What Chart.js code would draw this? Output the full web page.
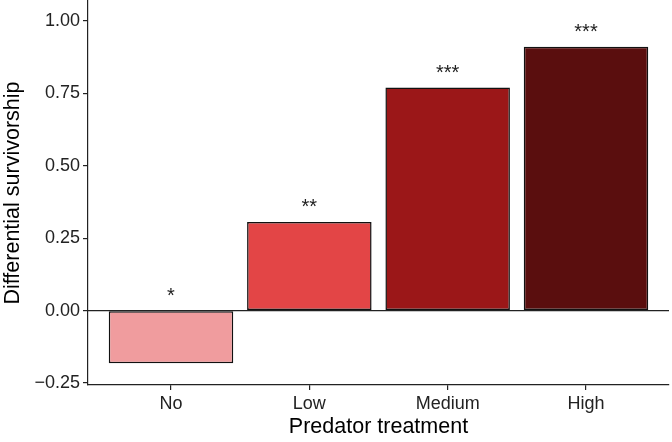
<!DOCTYPE html>
<html>
<head>
<meta charset="utf-8">
<script src="https://cdn.jsdelivr.net/npm/chart.js@4"></script>
<style>
  html, body { margin: 0; padding: 0; background: #fff; }
  #wrap { width: 672px; height: 442px; }
</style>
</head>
<body>
<div id="wrap"><canvas id="chart"></canvas></div>
<script>
// data
const treatments = ['No', 'Low', 'Medium', 'High'];
const survivorship = [-0.182, 0.306, 0.770, 0.911];
const significance = ['*', '**', '***', '***'];
const barColors = ['#F09C9E', '#E34546', '#9B1718', '#5A0E0E'];
const yTicks = [-0.25, 0, 0.25, 0.5, 0.75, 1.0];

const FONT = "'Liberation Sans', Arial, Helvetica, sans-serif";

// zero reference line + asterisks above each bar
const annotations = {
    id: 'annotations',
    afterDatasetsDraw(chart) {
        const ctx = chart.ctx;
        const x = chart.scales.x;
        const y = chart.scales.y;
        const area = chart.chartArea;
        ctx.save();
        ctx.strokeStyle = '#222';
        ctx.lineWidth = 1.2;
        const y0 = y.getPixelForValue(0);
        ctx.beginPath();
        ctx.moveTo(area.left, y0);
        ctx.lineTo(area.right, y0);
        ctx.stroke();

        ctx.fillStyle = '#222';
        ctx.font = '20px ' + FONT;
        ctx.textAlign = 'center';
        ctx.textBaseline = 'alphabetic';
        for (let i = 0; i < treatments.length; i++) {
            const px = x.getPixelForValue(i);
            const py = y.getPixelForValue(Math.max(survivorship[i], 0)) - 9;
            ctx.fillText(significance[i], px, py);
        }
        ctx.restore();
    }
};

const ctx = document.getElementById('chart').getContext('2d');
new Chart(ctx, {
    type: 'bar',
    data: {
        datasets: [{
            data: survivorship.map((v, i) => ({ x: i, y: v })),
            backgroundColor: barColors,
            borderColor: '#111',
            borderWidth: 1.5,
            borderSkipped: false,
            barPercentage: 0.9,
            categoryPercentage: 1.0
        }]
    },
    options: {
        responsive: true,
        maintainAspectRatio: false,
        animation: false,
        layout: { padding: { top: 1, right: 3, left: 0, bottom: 0 } },
        plugins: {
            legend: { display: false },
            tooltip: { enabled: false }
        },
        scales: {
            x: {
                type: 'linear',
                offset: false,
                min: -0.6,
                max: 3.6,
                afterBuildTicks: (scale) => {
                    scale.ticks = treatments.map((t, i) => ({ value: i }));
                },
                afterFit: (scale) => {
                    scale.height = 57;
                    scale.paddingLeft = 0;
                    scale.paddingRight = 0;
                },
                ticks: {
                    autoSkip: false,
                    color: '#222',
                    font: { family: FONT, size: 18 },
                    padding: 3,
                    maxRotation: 0,
                    callback: (v) => treatments[v]
                },
                grid: { display: true, offset: false, drawOnChartArea: false, drawTicks: true, tickLength: 5, color: '#222', lineWidth: 1.2 },
                border: { display: true, color: '#222', width: 1.2 },
                title: {
                    display: true,
                    text: 'Predator treatment',
                    color: '#000',
                    font: { family: FONT, size: 21.5 },
                    padding: { top: 0, bottom: 2 }
                }
            },
            y: {
                min: -0.257,
                max: 1.069,
                afterBuildTicks: (scale) => {
                    scale.ticks = yTicks.map(v => ({ value: v }));
                },
                afterFit: (scale) => {
                    scale.width = 88;
                    scale.paddingTop = 0;
                    scale.paddingBottom = 0;
                },
                ticks: {
                    color: '#222',
                    font: { family: FONT, size: 18 },
                    padding: 3,
                    callback: (v) => (v < 0 ? '\u2212' : '') + Math.abs(v).toFixed(2)
                },
                grid: { display: true, drawOnChartArea: false, drawTicks: true, tickLength: 5, color: '#222', lineWidth: 1.2 },
                border: { display: true, color: '#222', width: 1.2 },
                title: {
                    display: true,
                    text: 'Differential survivorship',
                    color: '#000',
                    font: { family: FONT, size: 21.5 },
                    padding: { top: 0, bottom: 0 }
                }
            }
        }
    },
    plugins: [annotations]
});
</script>
</body>
</html>
